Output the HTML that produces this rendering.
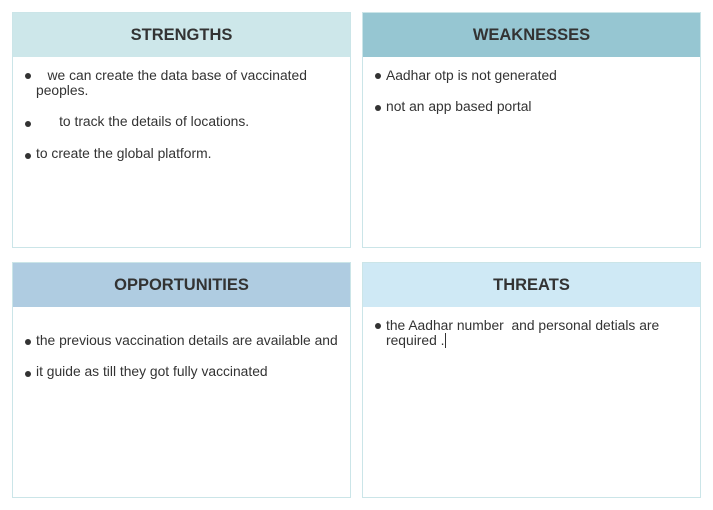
<!DOCTYPE html>
<html><head><style>
body{margin:0;width:713px;height:510px;background:#fff;position:relative;font-family:"Liberation Sans",sans-serif;overflow:hidden}
.b{position:absolute;width:337px;height:234px;border:1px solid #cbe5e8;background:#fff}
.h{position:absolute;left:0;top:0;width:337px;height:44px;line-height:44px;text-align:center;font-weight:bold;font-size:16.5px;color:#333}
.t{position:absolute;font-size:13.85px;color:#333;white-space:pre;line-height:15px}
.d{position:absolute;width:6px;height:6px;border-radius:50%;background:#333}
</style></head><body>
<div class="b" style="left:12px;top:12px"><div class="h" style="background:#cde7ea">STRENGTHS</div></div>
<div class="b" style="left:362px;top:12px"><div class="h" style="background:#96c6d2">WEAKNESSES</div></div>
<div class="b" style="left:12px;top:262px"><div class="h" style="background:#afcce1">OPPORTUNITIES</div></div>
<div class="b" style="left:362px;top:262px"><div class="h" style="background:#cfe9f5">THREATS</div></div>

<div class="d" style="left:25px;top:73px"></div>
<div class="t" style="left:36px;top:68px">   we can create the data base of vaccinated</div>
<div class="t" style="left:36px;top:83px">peoples.</div>
<div class="d" style="left:25px;top:121px"></div>
<div class="t" style="left:36px;top:114px">      to track the details of locations.</div>
<div class="d" style="left:25px;top:153px"></div>
<div class="t" style="left:36px;top:146px">to create the global platform.</div>

<div class="d" style="left:375px;top:73px"></div>
<div class="t" style="left:386px;top:68px">Aadhar otp is not generated</div>
<div class="d" style="left:375px;top:105px"></div>
<div class="t" style="left:386px;top:99px">not an app based portal</div>

<div class="d" style="left:25px;top:339px"></div>
<div class="t" style="left:36px;top:333px">the previous vaccination details are available and</div>
<div class="d" style="left:25px;top:371px"></div>
<div class="t" style="left:36px;top:364px">it guide as till they got fully vaccinated</div>

<div class="d" style="left:375px;top:323px"></div>
<div class="t" style="left:386px;top:318px">the Aadhar number  and personal detials are</div>
<div class="t" style="left:386px;top:333px">required .<span style="display:inline-block;width:1px;height:15px;background:#333;vertical-align:-3px"></span></div>
</body></html>
